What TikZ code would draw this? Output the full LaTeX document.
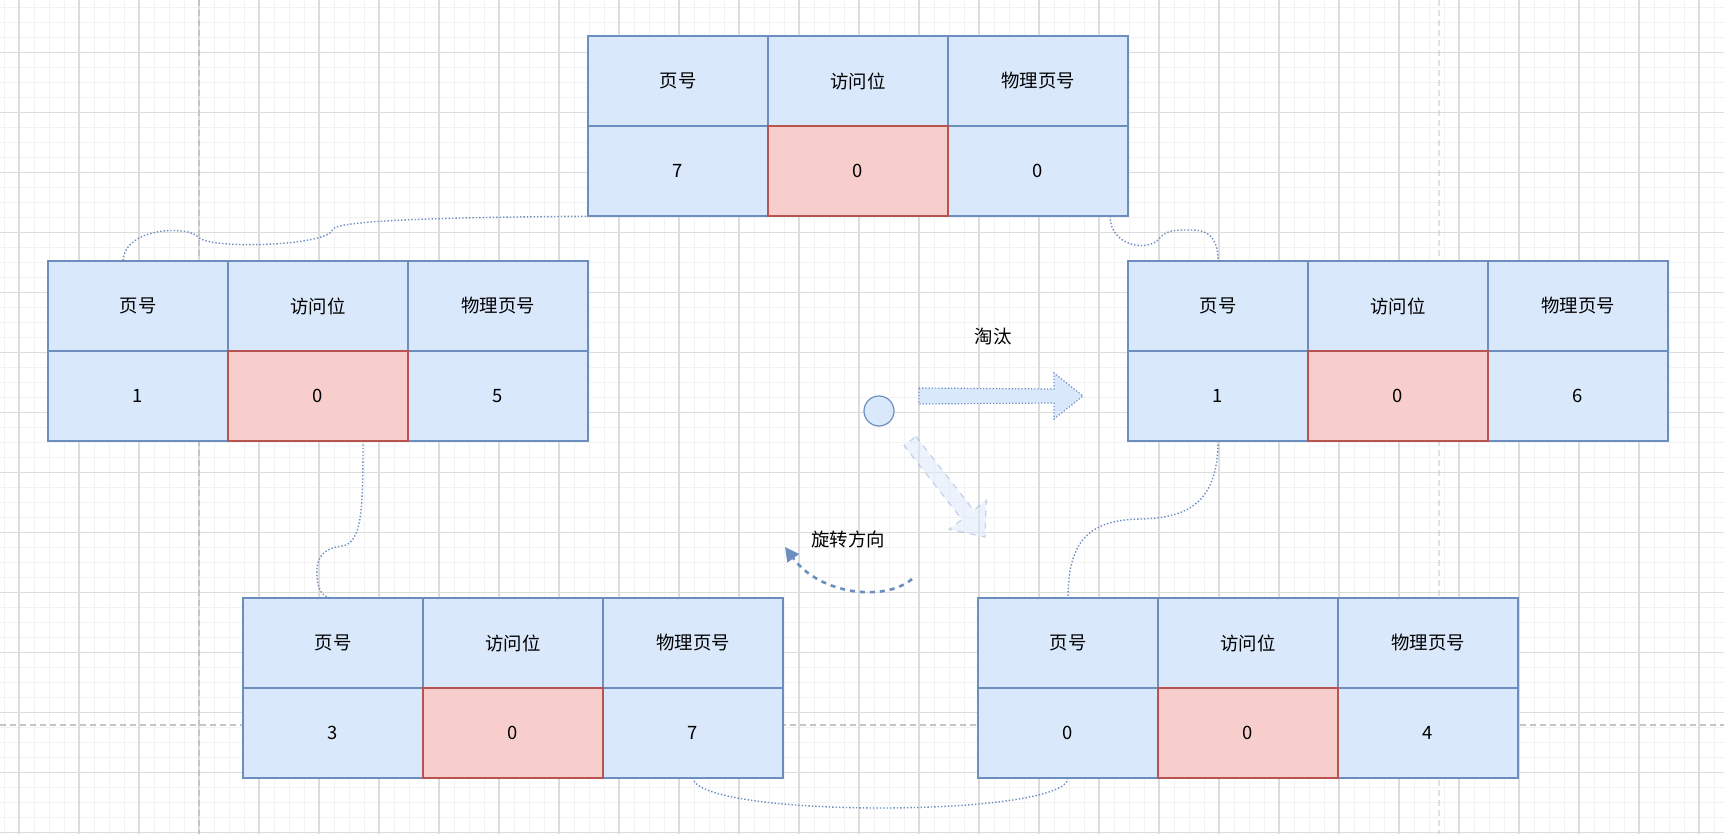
\documentclass[tikz,border=0pt]{standalone}
\usepackage{fontspec}
\setmainfont{Noto Sans CJK SC}
\usetikzlibrary{arrows.meta}
\definecolor{bfill}{HTML}{DAE8FC}
\definecolor{bline}{HTML}{6C8EBF}
\definecolor{rfill}{HTML}{F8CECC}
\definecolor{rline}{HTML}{B85450}
\definecolor{gmajor}{HTML}{DCDCDC}
\definecolor{gminor}{HTML}{F2F2F2}
\definecolor{gpage}{HTML}{C4C4C4}
\tikzset{
  cell/.style={draw=bline, fill=bfill, line width=0.6pt, minimum width=90pt,
    minimum height=45pt, inner sep=0pt, font=\fontsize{9.2}{11}\selectfont},
  hotcell/.style={cell, draw=rline, fill=rfill},
  link/.style={draw=bline, line width=0.7pt, densely dotted},
  lbl/.style={font=\fontsize{9.2}{11}\selectfont, inner sep=0pt},
  gridminor/.style={draw=gminor, line width=0.5pt},
  gridmajor/.style={draw=gmajor, line width=0.6pt},
  pagebreak/.style={draw=gpage, line width=0.6pt, dash pattern=on 3pt off 2pt},
}
% name, X, Y (top-left in px), v1, v2, v3
\newcommand\pagetable[6]{%
  \node[cell] (#1-11) at ({#2+90},{#3+45}) {页号};
  \node[cell] (#1-12) at ({#2+270},{#3+45}) {访问位};
  \node[cell] (#1-13) at ({#2+450},{#3+45}) {物理页号};
  \node[cell] (#1-21) at ({#2+90},{#3+135}) {#4};
  \node[cell] (#1-23) at ({#2+450},{#3+135}) {#6};
  \node[hotcell] (#1-22) at ({#2+270},{#3+135}) {#5};
}
\begin{document}
\begin{tikzpicture}[x=0.5pt, y=-0.5pt]
\useasboundingbox (0,0) rectangle (1724,834);
\fill[white] (0,0) rectangle (1724,834);
% background grid
\foreach \gx in {4,19,...,1724} \draw[gridminor] (\gx,0) -- (\gx,834);
\foreach \gy in {7.7,22.7,...,834} \draw[gridminor] (0,\gy) -- (1724,\gy);
\foreach \gx in {19,79,...,1724} \draw[gridmajor] (\gx,0) -- (\gx,834);
\foreach \gy in {52.7,112.7,...,834} \draw[gridmajor] (0,\gy) -- (1724,\gy);
\draw[pagebreak] (199,0) -- (199,834);
\draw[pagebreak, draw opacity=0.5] (1439,0) -- (1439,834);
\draw[pagebreak] (0,725) -- (1724,725);

% connector start points
\coordinate (c1s) at (620,216);
\coordinate (c2s) at (1110,216);
\coordinate (c3s) at (363,441);

% connectors (drawn under tables)
\path[link] (c1s) .. controls (450,217) and (340,220) .. (333,229)
  .. controls (330,246) and (210,250) .. (198,237)
  .. controls (190,226) and (125,226) .. (123,261) coordinate (c1e);
\path[link] (c2s) .. controls (1110,245) and (1145,252) .. (1158,240)
  .. controls (1166,229) and (1178,230) .. (1192,230)
  .. controls (1214,230) and (1218,245) .. (1218,261) coordinate (c2e);
\path[link] (c3s) .. controls (363,510) and (362,543) .. (342,546)
  .. controls (320,549) and (316,560) .. (317,577)
  .. controls (318,592) and (324,598) .. (333,598) coordinate (c3e);
\path[link] (1218,441) .. controls (1218,505) and (1185,518) .. (1140,519)
  .. controls (1090,520) and (1068,540) .. (1068,598) coordinate (c4e);
\path[link] (1068,778) .. controls (1066,818) and (697,818) .. (693,778) coordinate (c5e);

% tables
\pagetable{T}{588}{36}{7}{0}{0}
\pagetable{L}{48}{261}{1}{0}{5}
\pagetable{R}{1128}{261}{1}{0}{6}
\pagetable{BL}{243}{598}{3}{0}{7}
\pagetable{BR}{978}{598}{0}{0}{4}

% centre circle
\node[circle, draw=bline, fill=bfill, line width=0.6pt, minimum size=15pt, inner sep=0pt] (hand) at (879,411) {};

% thick arrow (eviction)
\draw[bline, fill=bfill, line width=0.6pt, densely dotted]
  (919,388) -- (1054,389) -- (1054,373) -- (1083,396) -- (1054,419) -- (1054,403) -- (919,404) -- cycle;
\node[lbl] (evict) at (993,337) {淘汰};

% faded diagonal arrow
\draw[draw=bline, draw opacity=0.35, fill=bfill, fill opacity=0.5, line width=0.6pt, dashed]
  (915.9,436.4) -- (973.7,510.3) -- (986.3,500.4) -- (985,537) -- (949.3,529.4)
  -- (961.9,519.5) -- (904.1,445.6) -- cycle;

% rotation direction arrow
\coordinate (rotA) at (912,579);
\coordinate (rotB) at (785,547);
\draw[bline, line width=1.3pt, dash pattern=on 2.5pt off 2.5pt,
  -{Triangle[length=7pt, width=7pt]}]
  (rotA) .. controls (885,602) and (820,595) .. (rotB);
\node[lbl] (rotlbl) at (848,539) {旋转方向};
\end{tikzpicture}
\end{document}
